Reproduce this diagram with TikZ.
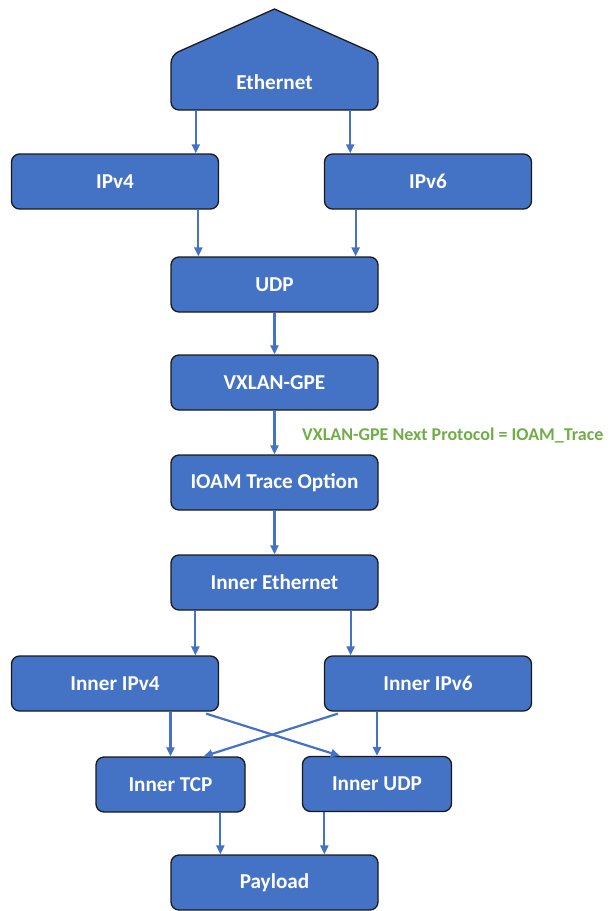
\documentclass[tikz,border=0pt]{standalone}
\usepackage{fontspec}
\setmainfont{Carlito}
\usetikzlibrary{arrows.meta,calc}
\definecolor{boxblue}{HTML}{4472C4}
\definecolor{lblgreen}{HTML}{70AD47}
\definecolor{boxedge}{HTML}{1A1A1A}
\begin{document}
\begin{tikzpicture}[x=1pt,y=-1pt,
  boxtext/.style={text=white, font=\bfseries\fontsize{21.2}{25}\selectfont, inner sep=0pt, minimum height=55pt},
  box/.style={boxtext, draw=boxedge, line width=1.3pt, fill=boxblue, rounded corners=8pt},
  wide/.style={box, minimum width=207pt},
  narrow/.style={box, minimum width=149pt},
  conn/.style={draw=boxblue, line width=2.2pt, -{Triangle[length=9pt,width=8pt]}},
  lbl/.style={text=lblgreen, font=\bfseries\fontsize{18}{21}\selectfont, inner sep=0pt}]
\useasboundingbox (0,0) rectangle (612,911);
% Ethernet pentagon
\draw[draw=boxedge, line width=1.3pt, fill=boxblue, rounded corners=8pt]
  (171,110) -- (171,55) [sharp corners] -- (274.5,9) [rounded corners=8pt] -- (378,55) -- (378,110) -- cycle;
\node[boxtext, minimum width=207pt] (eth) at (274.5,82.5) {Ethernet};
% boxes
\node[wide] (ipv4) at (115,181.5) {IPv4};
\node[wide] (ipv6) at (428,181.5) {IPv6};
\node[wide] (udp) at (274.5,284.5) {UDP};
\node[wide] (vx) at (274.5,382.5) {VXLAN-GPE};
\node[wide] (ioam) at (274.5,482.5) {IOAM Trace Option};
\node[wide] (ieth) at (274.5,582.5) {Inner Ethernet};
\node[wide] (iv4) at (115,683.5) {Inner IPv4};
\node[wide] (iv6) at (428,683.5) {Inner IPv6};
\node[narrow] (tcp) at (170.5,784.5) {Inner TCP};
\node[narrow] (iudp) at (377,784) {Inner UDP};
\node[wide] (pay) at (274.5,882.5) {Payload};
\node[lbl, anchor=west] (lab) at (302,435) {VXLAN-GPE Next Protocol = IOAM\_Trace};
% connectors
\path ($(eth.south west)+(25,0)$) coordinate (e1)
      ($(eth.south east)+(-28,0)$) coordinate (e2)
      ($(udp.north west)+(28,0)$) coordinate (u1)
      ($(udp.north east)+(-23,0)$) coordinate (u2)
      ($(ieth.south west)+(25,0)$) coordinate (ie1)
      ($(ieth.south east)+(-28,0)$) coordinate (ie2)
      ($(iv4.south east)+(-13,2)$) coordinate (x1)
      ($(iudp.north west)+(38,0)$) coordinate (x2)
      ($(iv6.south west)+(14,2)$) coordinate (x3)
      ($(tcp.north east)+(-42,0)$) coordinate (x4)
      ($(pay.north west)+(50,0)$) coordinate (p1)
      ($(pay.north west)+(154,0)$) coordinate (p2);
\draw[conn] (e1) -- (e1 |- ipv4.north);
\draw[conn] (e2) -- (e2 |- ipv6.north);
\draw[conn] (u1 |- ipv4.south) -- (u1);
\draw[conn] (u2 |- ipv6.south) -- (u2);
\draw[conn] (udp.south) -- (vx.north);
\draw[conn] (vx.south) -- (ioam.north);
\draw[conn] (ioam.south) -- (ieth.north);
\draw[conn] (ie1) -- (ie1 |- iv4.north);
\draw[conn] (ie2) -- (ie2 |- iv6.north);
\draw[conn] (tcp.north |- iv4.south) -- (tcp.north);
\draw[conn] (iudp.north |- iv6.south) -- (iudp.north);
\draw[conn] (x1) -- (x2);
\draw[conn] (x3) -- (x4);
\draw[conn] (p1 |- tcp.south) -- (p1);
\draw[conn] (p2 |- iudp.south) -- (p2);
\end{tikzpicture}
\end{document}
